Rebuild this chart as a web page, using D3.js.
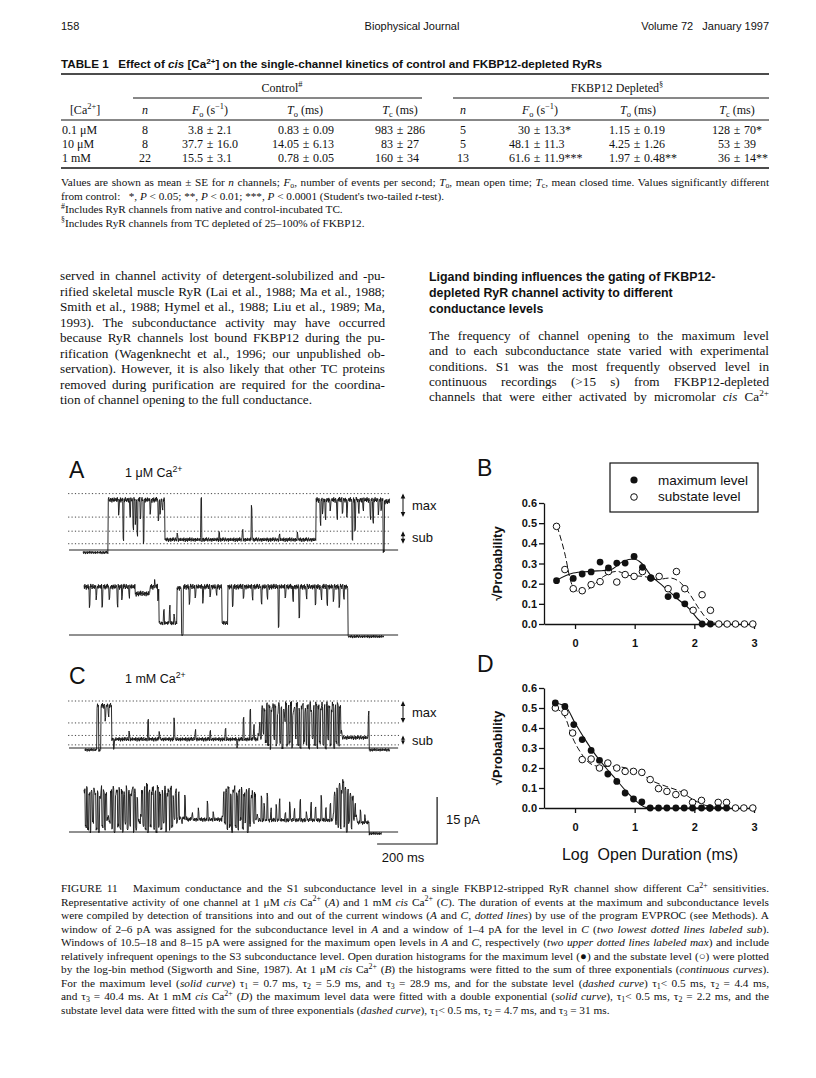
<!DOCTYPE html>
<html>
<head>
<meta charset="utf-8">
<script src="https://cdn.jsdelivr.net/npm/d3@7"></script>
<style>
  body { margin: 0; background: #fff; }
  text { white-space: pre; }
  .axis path, .axis line { stroke: #111; stroke-width: 1.3; }
  .axis text { font: bold 11px 'Liberation Sans', Arial, sans-serif; fill: #111; }
</style>
</head>
<body>
<div id="page"></div>
<script>
// ---- Table 1 values
var concs = ["0.1 μM", "10 μM", "1 mM"];
var ctrlN = ["8", "8", "22"];
var ctrlFo = ["3.8 ± 2.1", "37.7 ± 16.0", "15.5 ± 3.1"];
var ctrlTo = ["0.83 ± 0.09", "14.05 ± 6.13", "0.78 ± 0.05"];
var ctrlTc = ["983 ± 286", "83 ± 27", "160 ± 34"];
var depN = ["5", "5", "13"];
var depFo = ["30 ± 13.3*", "48.1 ± 11.3", "61.6 ± 11.9***"];
var depTo = ["1.15 ± 0.19", "4.25 ± 1.26", "1.97 ± 0.48**"];
var depTc = ["128 ± 70*", "53 ± 39", "36 ± 14**"];
var colHeads = ["[Ca^{2+}]", "_n_", "_F_~{o} (s^{−1})", "_T_~{o} (ms)", "_T_~{c} (ms)",
                "_n_", "_F_~{o} (s^{−1})", "_T_~{o} (ms)", "_T_~{c} (ms)"];

// ---- histogram B (1 uM cis Ca2+): log open duration vs sqrt probability
var bMaxX = [-0.31, -0.03, 0.12, 0.27, 0.42, 0.56, 0.70, 0.84, 0.99, 1.13, 1.27, 1.56, 1.70, 1.84, 2.13, 2.27];
var bMaxY = [0.215, 0.226, 0.248, 0.258, 0.307, 0.278, 0.302, 0.302, 0.335, 0.281, 0.228, 0.136, 0.14, 0.10, 0, 0];
var bSubX = [-0.31, -0.17, -0.03, 0.12, 0.27, 0.42, 0.56, 0.70, 0.84, 0.99, 1.13, 1.27, 1.41, 1.56, 1.70, 1.84, 1.98, 2.13, 2.27, 2.41, 2.55, 2.69, 2.84, 2.98];
var bSubY = [0.484, 0.27, 0.175, 0.165, 0.195, 0.21, 0.26, 0.208, 0.245, 0.236, 0.26, 0.228, 0.236, 0.175, 0.26, 0.175, 0.068, 0.145, 0.068, 0, 0, 0, 0, 0];
var bMaxFit = [[-0.32, 0.215], [-0.03, 0.253], [0.25, 0.261], [0.59, 0.269], [0.81, 0.311], [0.98, 0.322], [1.12, 0.30],
               [1.26, 0.245], [1.48, 0.187], [1.70, 0.129], [1.93, 0.071], [2.07, 0.021], [2.18, 0], [2.43, 0]];
var bSubFit = [[-0.30, 0.484], [-0.16, 0.335], [-0.08, 0.22], [0.0, 0.17], [0.11, 0.157], [0.25, 0.178], [0.48, 0.236],
               [0.70, 0.261], [0.92, 0.24], [1.15, 0.236], [1.37, 0.22], [1.59, 0.228], [1.76, 0.207], [1.93, 0.145],
               [2.09, 0.071], [2.26, 0.013], [2.43, 0]];

// ---- histogram D (1 mM cis Ca2+)
var dMaxX = [-0.33, -0.17, -0.02, 0.12, 0.27, 0.41, 0.55, 0.70, 0.84, 0.98, 1.12, 1.26, 1.40, 1.54, 1.69, 1.83, 1.97, 2.12, 2.26, 2.40, 2.54];
var dMaxY = [0.525, 0.508, 0.417, 0.342, 0.288, 0.238, 0.17, 0.133, 0.075, 0.045, 0.03, 0, 0, 0, 0, 0, 0, 0, 0, 0, 0];
var dSubX = [-0.33, -0.17, -0.04, 0.12, 0.27, 0.41, 0.55, 0.70, 0.84, 0.98, 1.12, 1.26, 1.40, 1.54, 1.69, 1.83, 1.97, 2.12, 2.26, 2.40, 2.54, 2.69, 2.83, 2.98];
var dSubY = [0.50, 0.478, 0.375, 0.242, 0.245, 0.20, 0.225, 0.20, 0.183, 0.183, 0.178, 0.142, 0.097, 0.083, 0.067, 0.075, 0.028, 0.038, 0, 0.028, 0.028, 0, 0, 0];
var dMaxFit = [[-0.33, 0.525], [-0.16, 0.508], [0.0, 0.425], [0.17, 0.342], [0.34, 0.267], [0.52, 0.2], [0.69, 0.142],
               [0.86, 0.083], [1.03, 0.033], [1.19, 0.003], [1.36, 0], [2.6, 0]];
var dSubFit = [[-0.33, 0.5], [-0.16, 0.45], [-0.05, 0.358], [0.1, 0.275], [0.24, 0.225], [0.41, 0.208], [0.63, 0.208],
               [0.86, 0.2], [1.08, 0.175], [1.31, 0.133], [1.53, 0.108], [1.76, 0.083], [1.98, 0.042], [2.15, 0.017],
               [2.38, 0.003], [2.6, 0]];
var yTicks = [0, 0.1, 0.2, 0.3, 0.4, 0.5, 0.6];
var xTicks = [0, 1, 2, 3];

// ---- single-channel current records (ms, pA)
// segments [start, end, level], bursts [start, step, levels], events [time, level]
var noise = [0.5, -0.7, 0.9, -0.2, 0.3, -1.0, 0.6, 0.1, -0.5, 0.8, -0.9, 0.2, -0.3, 0.7, -0.6, 1.0, -0.1, 0.4, -0.8,
             0.3, 0.9, -0.4, 0.1, -0.7, 0.6, -0.2, 0.4, -0.9, 0.7, -0.3, 0.2, -0.6, 0.8, -0.5, 0.0, 0.5, -0.4];

var a1Segs = [[47, 130, -0.8], [130, 320, 16], [320, 823, 3.3], [823, 1047, 16], [1047, 1052, -0.5], [1052, 1070, 15.5]];
var a1Events = [[165, 12], [180, 3], [203, 11], [213, 7], [220, 9], [227, 5], [237, 10], [247, 2.5], [270, 12], [297, 9],
  [303, 12], [310, 13], [360, 5], [440, 16.5], [500, 5.5], [577, 6.5], [607, 14], [700, 5], [760, 5.2],
  [837, 8.6], [845, 12], [853, 10], [870, 13], [893, 10.5], [910, 12], [925, 11], [943, 3], [953, 6.4], [965, 12],
  [980, 13], [1003, 10.5], [1013, 8.6], [1030, 12], [1040, 13]];

var a2Segs = [[50, 220, 15.4], [220, 270, 13.2], [270, 300, 15.4], [300, 360, 3.8], [360, 375, 15], [375, 381, 0],
  [381, 510, 15.4], [510, 530, 3.8], [530, 930, 15.4], [930, 1050, -0.5]];
var a2Events = [[67, 9], [90, 12], [110, 9], [133, 11], [160, 9.5], [175, 12], [200, 12.5], [285, 17], [295, 11],
  [315, 8], [335, 9], [350, 6], [400, 10], [420, 12], [445, 11], [470, 12.5], [490, 13], [545, 9], [580, 12],
  [610, 12], [640, 10], [660, 12], [697, 2.5], [720, 12], [745, 11], [767, 5.4], [790, 12], [820, 10], [840, 12],
  [860, 10], [880, 11], [900, 9], [915, 12]];

var c1Segs = [[53, 93, -0.6], [93, 99, 13.5], [99, 107, -0.8], [107, 143, 13.5], [143, 630, 2.8], [910, 1000, 3.3], [1000, 1070, -0.6]];
var c1Bursts = [[630, 4, [4, 8, 3, 13, 5, 12, 2, 14, 1, 13, 0, 12, 14, 3, 13, 1, 11, 14, 2, 13, 0, 12, 9, 14, 1, 13, 2, 14,
  0, 11, 13, 3, 14, 1, 12, 0, 13, 14, 2, 12, 1, 13, 0, 14, 12, 3, 13, 1, 14, 0, 13, 2, 12, 14, 1, 13, 0, 14, 3, 13,
  1, 12, 14, 0, 13, 2, 14, 1, 13, 5]]];
var c1Events = [[120, 9], [130, 10], [148, 0], [200, 5], [263, 9], [300, 5], [350, 9], [420, 5.5], [470, 5], [520, 6],
  [560, 0.5], [580, 9], [603, 12], [615, 7], [997, 11]];

var c2Segs = [[360, 393, 4.5], [393, 510, 4], [627, 880, 3.8], [960, 1000, 3], [1000, 1043, -0.5]];
var c2Bursts = [
  [50, 4, [13, 2, 14, 1, 12, 0, 13, 3, 14, 12, 1, 13, 0, 11, 14, 2, 13, 1, 12, 4, 5, 3, 13, 1, 14, 0, 12, 13, 2, 14, 1,
    13, 0, 12, 3, 14, 1, 13, 2, 12, 14, 0, 13, 1, 11, 4, 3, 5, 13, 2, 14, 1, 15, 0, 13, 2, 12, 14, 1, 13, 0, 14, 2, 12,
    1, 13, 3, 14, 0, 12, 13, 1, 14, 2, 11, 4, 13, 3]],
  [510, 4, [5, 12, 3, 13, 1, 14, 2, 12, 0, 13, 14, 2, 12, 1, 13, 4, 14, 1, 12, 3, 13, 0, 14, 2, 11, 13, 3, 12, 4, 5]],
  [880, 4, [6, 12, 3, 14, 2, 15, 1, 13, 16, 2, 14, 0, 13, 3, 12, 1, 11, 4, 9, 5]]];
var c2Events = [[365, 12.5], [375, 3], [385, 11], [410, 6], [430, 7], [460, 9], [480, 6], [640, 11], [650, 9],
  [660, 12], [672, 7], [690, 8], [700, 10], [720, 6], [735, 9], [750, 7], [770, 10], [790, 6], [805, 9], [820, 8],
  [840, 11], [855, 7], [870, 9], [970, 7], [985, 5]];

var windowsA = [2, 6, 10.5, 18];   // pA, dotted lines
var windowsC = [1, 4, 8, 15];

// ---- text
var leftLines = [
  "served in channel activity of detergent-solubilized and -pu-",
  "rified skeletal muscle RyR (Lai et al., 1988; Ma et al., 1988;",
  "Smith et al., 1988; Hymel et al., 1988; Liu et al., 1989; Ma,",
  "1993). The subconductance activity may have occurred",
  "because RyR channels lost bound FKBP12 during the pu-",
  "rification (Wagenknecht et al., 1996; our unpublished ob-",
  "servation). However, it is also likely that other TC proteins",
  "removed during purification are required for the coordina-",
  "tion of channel opening to the full conductance."];
var headLines = ["Ligand binding influences the gating of FKBP12-",
  "depleted RyR channel activity to different", "conductance levels"];
var rightLines = [
  "The frequency of channel opening to the maximum level",
  "and to each subconductance state varied with experimental",
  "conditions. S1 was the most frequently observed level in",
  "continuous recordings (>15 s) from FKBP12-depleted",
  "channels that were either activated by micromolar _cis_ Ca^{2+}"];
var noteLines = [
  "Values are shown as mean ± SE for _n_ channels; _F_~{o}, number of events per second; _T_~{o}, mean open time; _T_~{c}, mean closed time. Values significantly different",
  "from control:   *, _P_ < 0.05; **, _P_ < 0.01; ***, _P_ < 0.0001 (Student's two-tailed _t_-test).",
  "^{#}Includes RyR channels from native and control-incubated TC.",
  "^{§}Includes RyR channels from TC depleted of 25–100% of FKBP12."];
var captionLines = [
  "FIGURE 11   Maximum conductance and the S1 subconductance level in a single FKBP12-stripped RyR channel show different Ca^{2+} sensitivities.",
  "Representative activity of one channel at 1 μM _cis_ Ca^{2+} (_A_) and 1 mM _cis_ Ca^{2+} (_C_). The duration of events at the maximum and subconductance levels",
  "were compiled by detection of transitions into and out of the current windows (_A_ and _C_, _dotted lines_) by use of the program EVPROC (see Methods). A",
  "window of 2–6 pA was assigned for the subconductance level in _A_ and a window of 1–4 pA for the level in _C_ (_two lowest dotted lines labeled sub_).",
  "Windows of 10.5–18 and 8–15 pA were assigned for the maximum open levels in _A_ and _C_, respectively (_two upper dotted lines labeled max_) and include",
  "relatively infrequent openings to the S3 subconductance level. Open duration histograms for the maximum level (●) and the substate level (○) were plotted",
  "by the log-bin method (Sigworth and Sine, 1987). At 1 μM _cis_ Ca^{2+} (_B_) the histograms were fitted to the sum of three exponentials (_continuous curves_).",
  "For the maximum level (_solid curve_) τ~{1} = 0.7 ms, τ~{2} = 5.9 ms, and τ~{3} = 28.9 ms, and for the substate level (_dashed curve_) τ~{1}< 0.5 ms, τ~{2} = 4.4 ms,",
  "and τ~{3} = 40.4 ms. At 1 mM _cis_ Ca^{2+} (_D_) the maximum level data were fitted with a double exponential (_solid curve_), τ~{1}< 0.5 ms, τ~{2} = 2.2 ms, and the",
  "substate level data were fitted with the sum of three exponentials (_dashed curve_), τ~{1}< 0.5 ms, τ~{2} = 4.7 ms, and τ~{3} = 31 ms."];

// ---------------------------------------------------------------
var sans = "'Liberation Sans', Arial, Helvetica, sans-serif",
  serif = "'Liberation Serif', 'Times New Roman', serif",
  ink = "#111";

var svg = d3.select("#page").append("svg")
  .attr("width", 816)
  .attr("height", 1078)
  .style("background", "#fff");

// little markup: _italic_, ^{sup}, ~{sub}
function rich(g, str, x, y, fs, opts) {
  opts = opts || {};
  var t = g.append("text")
    .attr("x", x).attr("y", y)
    .attr("font-size", fs)
    .attr("font-family", opts.family || serif)
    .attr("fill", ink);
  if (opts.anchor) t.attr("text-anchor", opts.anchor);
  if (opts.weight) t.attr("font-weight", opts.weight);
  if (opts.stretch) t.attr("textLength", opts.stretch).attr("lengthAdjust", "spacingAndGlyphs");
  var runs = [], buf = "", ital = false, i = 0;
  function flush() { if (buf) runs.push({s: buf, it: ital, pos: 0}); buf = ""; }
  while (i < str.length) {
    var c = str[i];
    if (c === "_") { flush(); ital = !ital; i++; }
    else if ((c === "^" || c === "~") && str[i + 1] === "{") {
      flush();
      var j = str.indexOf("}", i);
      runs.push({s: str.slice(i + 2, j), it: ital, pos: c === "^" ? 1 : -1});
      i = j + 1;
    } else { buf += c; i++; }
  }
  flush();
  var shift = 0;
  runs.forEach(function(r) {
    var target = r.pos === 1 ? -0.38 * fs : r.pos === -1 ? 0.22 * fs : 0;
    var ts = t.append("tspan").text(r.s);
    if (r.it) ts.attr("font-style", "italic");
    if (r.pos) ts.attr("font-size", fs * 0.7);
    if (target !== shift) ts.attr("dy", target - shift);
    shift = target;
  });
  // justify by widening the word spaces
  if (opts.width) {
    var nat = t.node().getComputedTextLength(),
      nsp = (t.text().match(/ /g) || []).length;
    if (nsp) t.attr("word-spacing", (opts.width - nat) / nsp);
  }
  return t;
}

function rule(g, x1, x2, y, w) {
  g.append("line").attr("x1", x1).attr("x2", x2).attr("y1", y).attr("y2", y)
    .attr("stroke", ink).attr("stroke-width", w);
}

// ---- running head
var head = svg.append("g");
rich(head, "158", 61, 30, 11, {family: sans});
rich(head, "Biophysical Journal", 412, 30, 11, {family: sans, anchor: "middle"});
rich(head, "Volume 72   January 1997", 769, 30, 11, {family: sans, anchor: "end"});

// ---- TABLE 1
var tab = svg.append("g");
rich(tab, "TABLE 1   Effect of _cis_ [Ca^{2+}] on the single-channel kinetics of control and FKBP12-depleted RyRs",
  61, 68, 10, {family: sans, weight: "bold", stretch: 541});
rule(tab, 61, 769, 74, 1.6);
rich(tab, "Control^{#}", 282, 92, 12, {anchor: "middle"});
rich(tab, "FKBP12 Depleted^{§}", 617, 92, 12, {anchor: "middle"});
rule(tab, 133, 422, 98, 1);
rule(tab, 453, 769, 98, 1);

var headX = [85, 145, 210, 305, 400, 463, 540, 638, 737];
colHeads.forEach(function(h, i) { rich(tab, h, headX[i], 114, 12, {anchor: "middle"}); });
rule(tab, 61, 769, 120, 1);

var rowY = [134, 148, 162];
var pmCols = [[ctrlFo, 210], [ctrlTo, 306], [ctrlTc, 400], [depFo, 537], [depTo, 637], [depTc, 737]];
concs.forEach(function(c, r) {
  rich(tab, c, 62, rowY[r], 12);
  rich(tab, ctrlN[r], 145, rowY[r], 12, {anchor: "middle"});
  rich(tab, depN[r], 463, rowY[r], 12, {anchor: "middle"});
  pmCols.forEach(function(pc) {
    var parts = pc[0][r].split(" ± ");
    rich(tab, parts[0], pc[1] - 7, rowY[r], 12, {anchor: "end"});
    rich(tab, "±", pc[1], rowY[r], 12, {anchor: "middle"});
    rich(tab, parts[1], pc[1] + 7, rowY[r], 12);
  });
});
rule(tab, 61, 769, 168, 1.6);

var noteY = [186, 199.5, 213, 226.5];
noteLines.forEach(function(s, i) {
  rich(tab, s, 61, noteY[i], 11.2, i === 0 ? {width: 708} : {});
});

// ---- body text
var body = svg.append("g");
var leftY = [280, 296, 311, 327, 342, 358, 373, 389, 404];
leftLines.forEach(function(s, i) {
  rich(body, s, 60, leftY[i], 13.2, i < leftLines.length - 1 ? {width: 325} : {});
});
var headY = [281, 297, 313];
headLines.forEach(function(s, i) {
  rich(body, s, 429, headY[i], 12.4, {family: sans, weight: "bold"});
});
var rightY = [340, 355, 371, 386, 401];
rightLines.forEach(function(s, i) {
  rich(body, s, 429, rightY[i], 13.2, {width: 340});
});

// ---- current traces A and C
var fig = svg.append("g");
var xT = d3.scaleLinear().domain([0, 1100]).range([69, 399]);   // 200 ms = 60 px
function pAScale(base) { return d3.scaleLinear().domain([0, 15]).range([base, base - 47]); }
var yA1 = pAScale(550), yA2 = pAScale(635), yC1 = pAScale(748), yC2 = pAScale(832);

function buildTrace(segs, bursts, events) {
  var starts = segs.map(function(s) { return s[0]; }).concat(bursts.map(function(b) { return b[0]; }));
  var ends = segs.map(function(s) { return s[1]; }).concat(bursts.map(function(b) { return b[0] + b[1] * b[2].length; }));
  var t0 = d3.min(starts), t1 = d3.max(ends), pts = [], k = 0;
  for (var t = t0; t <= t1; t += 1.5, k++) {
    var lev = null;
    bursts.forEach(function(b) {
      var idx = Math.floor((t - b[0]) / b[1]);
      if (idx >= 0 && idx < b[2].length) lev = b[2][idx];
    });
    if (lev === null) segs.forEach(function(s) { if (t >= s[0] && t < s[1]) lev = s[2]; });
    events.forEach(function(e) { if (t >= e[0] && t < e[0] + 3) lev = e[1]; });
    if (lev === null) continue;
    var amp = lev > 6 ? 0.9 : lev > 1.5 ? 0.7 : 0.5;
    pts.push([t, lev + noise[k % noise.length] * amp]);
  }
  return pts;
}

function drawTrace(y, segs, bursts, events) {
  fig.append("line")
    .attr("x1", xT(0)).attr("x2", xT(1097)).attr("y1", y(0)).attr("y2", y(0))
    .attr("stroke", "#222").attr("stroke-width", 1);
  fig.append("path")
    .datum(buildTrace(segs, bursts, events))
    .attr("fill", "none")
    .attr("stroke", "#141414")
    .attr("stroke-width", 0.9)
    .attr("stroke-linejoin", "round")
    .attr("d", d3.line().x(function(d) { return xT(d[0]); }).y(function(d) { return y(d[1]); }));
}

function drawWindows(y, levels, tEnd) {
  levels.forEach(function(l) {
    fig.append("line")
      .attr("x1", xT(-3)).attr("x2", xT(tEnd)).attr("y1", y(l)).attr("y2", y(l))
      .attr("stroke", "#333").attr("stroke-width", 0.9).attr("stroke-dasharray", "1.2,2.2");
  });
}

function dblArrow(x, ya, yb) {
  fig.append("line").attr("x1", x).attr("x2", x).attr("y1", ya + 2).attr("y2", yb - 2)
    .attr("stroke", ink).attr("stroke-width", 1);
  fig.append("path").attr("fill", ink)
    .attr("d", "M" + x + "," + ya + "l-2.3,5h4.6z M" + x + "," + yb + "l-2.3,-5h4.6z");
}

function levelLabels(y, levels) {
  dblArrow(403, y(levels[3]), y(levels[2]));
  dblArrow(403, y(levels[1]), y(levels[0]));
  rich(fig, "max", 412, (y(levels[3]) + y(levels[2])) / 2 + 5, 13, {family: sans});
  rich(fig, "sub", 412, (y(levels[1]) + y(levels[0])) / 2 + 5, 13, {family: sans});
}

// panel A
rich(fig, "A", 69, 478, 23, {family: sans});
rich(fig, "1 μM Ca^{2+}", 125, 477, 12.5, {family: sans});
drawWindows(yA1, windowsA, 1070);
drawTrace(yA1, a1Segs, [], a1Events);
levelLabels(yA1, windowsA);
drawTrace(yA2, a2Segs, [], a2Events);

// panel C
rich(fig, "C", 69, 684, 23, {family: sans});
rich(fig, "1 mM Ca^{2+}", 125, 683, 12.5, {family: sans});
drawWindows(yC1, windowsC, 1100);
drawTrace(yC1, c1Segs, c1Bursts, c1Events);
levelLabels(yC1, windowsC);
drawTrace(yC2, c2Segs, c2Bursts, c2Events);

// scale bar: 15 pA, 200 ms
var yBar = pAScale(844);
fig.append("path")
  .attr("fill", "none").attr("stroke", ink).attr("stroke-width", 1.2)
  .attr("d", "M" + xT(1027) + "," + yBar(0) + "H" + xT(1227) + "V" + yBar(15));
rich(fig, "15 pA", 446, 824, 13, {family: sans});
rich(fig, "200 ms", 403, 862, 13, {family: sans, anchor: "middle"});

// ---- histograms B and D
var xLog = d3.scaleLinear().domain([-0.52, 3]).range([544, 754]);
var yB = d3.scaleLinear().domain([0, 0.6]).range([624, 503]);
var yD = d3.scaleLinear().domain([0, 0.6]).range([808, 688]);

function histPanel(y, maxX, maxY, subX, subY, maxFit, subFit) {
  var g = fig.append("g");
  g.append("g").attr("class", "axis")
    .attr("transform", "translate(" + xLog.range()[0] + ",0)")
    .call(d3.axisLeft(y).tickValues(yTicks).tickFormat(d3.format(".1f")).tickSize(5).tickPadding(2).tickSizeOuter(0));
  g.append("g").attr("class", "axis")
    .attr("transform", "translate(0," + y(0) + ")")
    .call(d3.axisBottom(xLog).tickValues(xTicks).tickFormat(d3.format("d")).tickSize(5).tickPadding(10).tickSizeOuter(0));

  var line = d3.line().curve(d3.curveMonotoneX)
    .x(function(d) { return xLog(d[0]); }).y(function(d) { return y(d[1]); });
  g.append("path").datum(subFit).attr("d", line).attr("fill", "none")
    .attr("stroke", ink).attr("stroke-width", 1).attr("stroke-dasharray", "6,3");
  g.append("path").datum(maxFit).attr("d", line).attr("fill", "none")
    .attr("stroke", ink).attr("stroke-width", 1.1);

  g.selectAll(".open").data(subX).enter().append("circle")
    .attr("cx", function(d) { return xLog(d); })
    .attr("cy", function(d, i) { return y(subY[i]); })
    .attr("r", 3.3).attr("fill", "#fff").attr("stroke", ink).attr("stroke-width", 1);
  g.selectAll(".filled").data(maxX).enter().append("circle")
    .attr("cx", function(d) { return xLog(d); })
    .attr("cy", function(d, i) { return y(maxY[i]); })
    .attr("r", 3.4).attr("fill", ink);

  g.append("text")
    .attr("transform", "translate(502," + (y(0) + y(0.6)) / 2 + ")rotate(-90)")
    .attr("text-anchor", "middle")
    .attr("font-family", sans).attr("font-weight", "bold").attr("font-size", 13).attr("fill", ink)
    .text("√Probability");
}

rich(fig, "B", 477, 476, 23, {family: sans});
histPanel(yB, bMaxX, bMaxY, bSubX, bSubY, bMaxFit, bSubFit);
rich(fig, "D", 477, 672, 23, {family: sans});
histPanel(yD, dMaxX, dMaxY, dSubX, dSubY, dMaxFit, dSubFit);

// legend
fig.append("rect").attr("x", 610).attr("y", 463).attr("width", 148).attr("height", 49)
  .attr("fill", "#fff").attr("stroke", ink).attr("stroke-width", 1.2);
fig.append("circle").attr("cx", 634).attr("cy", 480).attr("r", 3.6).attr("fill", ink);
fig.append("circle").attr("cx", 634).attr("cy", 497).attr("r", 3.3).attr("fill", "#fff").attr("stroke", ink);
rich(fig, "maximum level", 658, 485, 13.5, {family: sans});
rich(fig, "substate level", 658, 501, 13.5, {family: sans});

rich(fig, "Log  Open Duration (ms)", 650, 860, 16, {family: sans, anchor: "middle"});

// ---- caption
var capY = [892, 905.5, 919, 932.5, 946, 959.5, 973, 986.5, 1000, 1013.5];
captionLines.forEach(function(s, i) {
  rich(svg, s, 61, capY[i], 11.3, i < captionLines.length - 1 ? {width: 708} : {});
});
</script>
</body>
</html>
